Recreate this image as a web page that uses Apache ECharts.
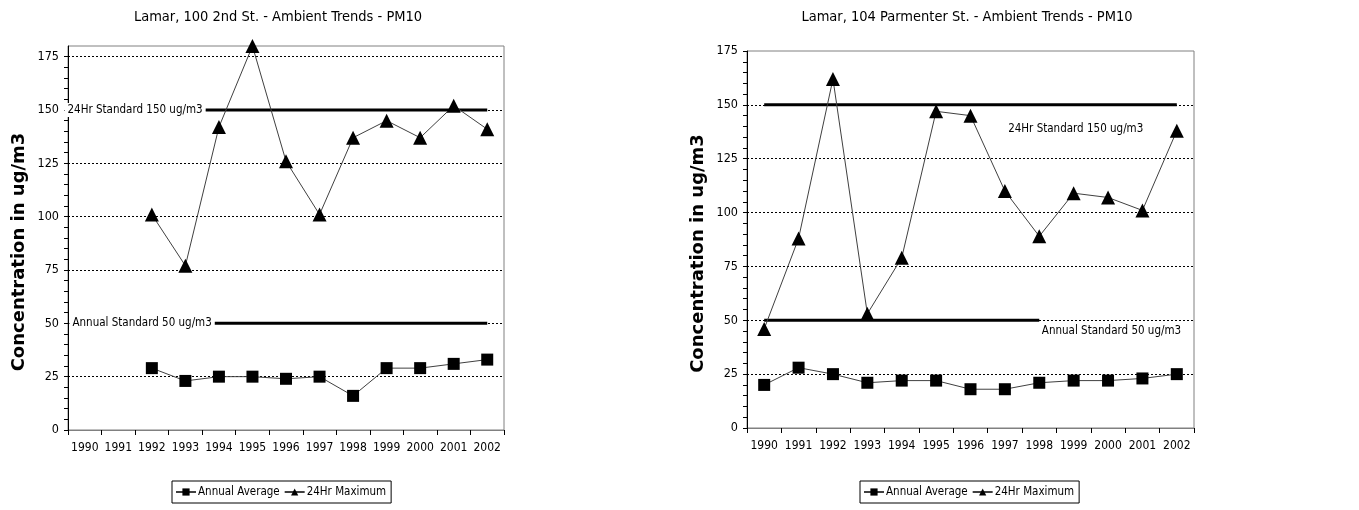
<!DOCTYPE html>
<html>
<head>
<meta charset="utf-8">
<script src="https://cdn.jsdelivr.net/npm/echarts@6/dist/echarts.min.js"></script>
<style>html,body{margin:0;padding:0;background:#fff}#c{width:1359px;height:510px}</style>
</head>
<body>
<div id="c"></div>
<script>
// ---- data ----
const years = ['1990','1991','1992','1993','1994','1995','1996','1997','1998','1999','2000','2001','2002'];
const titles = ['Lamar, 100 2nd St. - Ambient Trends - PM10', 'Lamar, 104 Parmenter St. - Ambient Trends - PM10'];
const seriesNames = ['Annual Average', '24Hr Maximum'];
const yTickLabels = [0, 25, 50, 75, 100, 125, 150, 175];
// Site 1: 100 2nd St.
const annual1 = [null, null, 29, 23, 25, 25, 24, 25, 16, 29, 29, 31, 33];
const max1    = [null, null, 101, 77, 142, 180, 126, 101, 137, 145, 137, 152, 141];
// Site 2: 104 Parmenter St.
const annual2 = [20, 28, 25, 21, 22, 22, 18, 18, 21, 22, 22, 23, 25];
const max2    = [46, 88, 162, 53, 79, 147, 145, 110, 89, 109, 107, 101, 138];
// Standards
const std24 = 150;
const stdAnnual = 50;
const std24Label = '24Hr Standard 150 ug/m3';
const stdAnnualLabel = 'Annual Standard 50 ug/m3';
const yName = 'Concentration in ug/m3';

// ---- layout (not data) ----
const FONT = "'DejaVu Sans Condensed', sans-serif";
const BOLD = "'DejaVu Sans', Verdana, sans-serif";
const grids = [
  {left: 68, right: 1359 - 504, top: 46, bottom: 80},
  {left: 747, right: 1359 - 1194, top: 51, bottom: 82}
];
const yMax = [180, 175];
// standard line extents / label anchors on a 0..13 category-slot scale
const stdLines = [
  {s24: [4.09, 12.5], sAnn: [4.29, 12.5], l24: [2.0, std24], lAnn: [2.21, stdAnnual], bg: '#fff'},
  {s24: [0.5, 12.5], sAnn: [0.5, 8.5], l24: [9.56, 139], lAnn: [10.6, 45], bg: 'transparent'}
];
const titleX = [273, 962];
const legendX = [172, 860];

const minorTicks = [];
for (let v = 0; v <= 175; v += 5) minorTicks.push(v);

const option = {
  animation: false,
  backgroundColor: '#fff',
  textStyle: {fontFamily: FONT},
  title: titles.map((t, i) => ({
    text: t, left: titleX[i], top: 5, textAlign: 'center',
    textStyle: {fontFamily: FONT, fontSize: 14.5, fontWeight: 'normal', color: '#000'}
  })),
  legend: [0, 1].map(i => ({
    data: seriesNames, left: legendX[i], top: 481, orient: 'horizontal',
    borderColor: '#000', borderWidth: 1, borderRadius: 0, padding: [5, 5, 5, 3],
    itemGap: 4, itemWidth: 20, itemHeight: 9,
    textStyle: {fontFamily: FONT, fontSize: 11.5, color: '#000', padding: [0, 0, 0, -3]},
    selectedMode: false
  })),
  grid: grids.map(g => Object.assign({show: true, borderColor: '#808080', borderWidth: 1, containLabel: false}, g)),
  xAxis: [0, 1].flatMap(i => [
    {
      type: 'category', gridIndex: i, data: years, boundaryGap: true,
      axisLine: {lineStyle: {color: '#808080', width: 1}},
      axisTick: {show: true, alignWithLabel: false, length: 5, lineStyle: {color: '#000'}},
      axisLabel: {fontFamily: FONT, fontSize: 12, color: '#000', margin: 12, interval: 0},
      splitLine: {show: false}
    },
    {type: 'value', gridIndex: i, min: 0, max: 13, show: false}
  ]),
  yAxis: [0, 1].flatMap(i => [
    {
      type: 'value', gridIndex: i, min: 0, max: yMax[i], interval: 25,
      name: yName, nameLocation: 'middle', nameRotate: 90, nameGap: 40,
      nameTextStyle: {fontFamily: BOLD, fontSize: 18, fontWeight: 'bold', color: '#000', padding: [0, 28, 0, 0]},
      axisLine: {show: true, lineStyle: {color: '#000', width: 1}},
      axisTick: {show: true, inside: false, length: 4, customValues: yTickLabels, lineStyle: {color: '#000'}},
      axisLabel: {fontFamily: FONT, fontSize: 12.5, color: '#000', margin: 9, customValues: yTickLabels},
      splitLine: {show: true, showMinLine: false, showMaxLine: i === 0, lineStyle: {color: '#000', type: [2, 2], width: 1}}
    },
    {
      type: 'value', gridIndex: i, min: 0, max: yMax[i], interval: 5, position: 'left',
      axisLine: {show: false},
      axisTick: {show: true, inside: false, length: 4, customValues: minorTicks, lineStyle: {color: '#000'}},
      axisLabel: {show: false},
      splitLine: {show: false}
    }
  ]),
  series: []
};

const sets = [[annual1, max1], [annual2, max2]];
[0, 1].forEach(i => {
  const xa = i * 2, xv = i * 2 + 1, ya = i * 2;
  option.series.push({
    name: seriesNames[0], type: 'line', xAxisIndex: xa, yAxisIndex: ya, data: sets[i][0],
    symbol: 'rect', symbolSize: 12, lineStyle: {color: '#404040', width: 1}, itemStyle: {color: '#000'}, z: 5
  });
  option.series.push({
    name: seriesNames[1], type: 'line', xAxisIndex: xa, yAxisIndex: ya, data: sets[i][1],
    symbol: 'triangle', symbolSize: [14, 14], lineStyle: {color: '#404040', width: 1}, itemStyle: {color: '#000'}, z: 5
  });
  const L = stdLines[i];
  option.series.push({
    type: 'line', xAxisIndex: xv, yAxisIndex: ya, silent: true, symbol: 'none',
    data: [[L.s24[0], std24], [L.s24[1], std24]], lineStyle: {color: '#000', width: 3}, z: 3
  });
  option.series.push({
    type: 'line', xAxisIndex: xv, yAxisIndex: ya, silent: true, symbol: 'none',
    data: [[L.sAnn[0], stdAnnual], [L.sAnn[1], stdAnnual]], lineStyle: {color: '#000', width: 3}, z: 3
  });
  option.series.push({
    type: 'scatter', xAxisIndex: xv, yAxisIndex: ya, silent: true, symbolSize: 1,
    itemStyle: {color: 'rgba(0,0,0,0)', opacity: 1}, z: 4,
    data: [
      {value: L.l24, label: {formatter: std24Label}},
      {value: L.lAnn, label: {formatter: stdAnnualLabel}}
    ],
    label: {show: true, position: 'inside', fontFamily: FONT, fontSize: 11.5, color: '#000', opacity: 1,
            backgroundColor: L.bg, padding: [1, 3]}
  });
});

const chart = echarts.init(document.getElementById('c'), null, {renderer: 'canvas'});
chart.setOption(option);
</script>
</body>
</html>
